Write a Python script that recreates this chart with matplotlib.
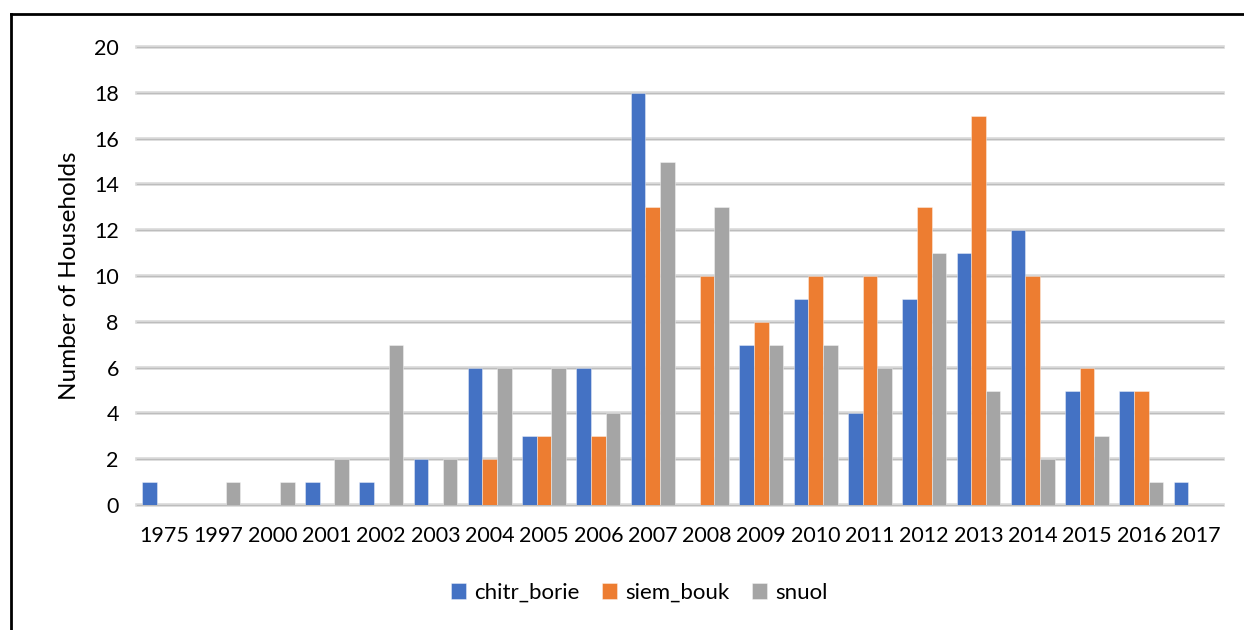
import matplotlib
matplotlib.use("Agg")
import matplotlib.pyplot as plt
import numpy as np
from matplotlib.lines import Line2D

plt.rcParams['font.family'] = ['Lato', 'DejaVu Sans']

years = ["1975", "1997", "2000", "2001", "2002", "2003", "2004", "2005", "2006", "2007",
         "2008", "2009", "2010", "2011", "2012", "2013", "2014", "2015", "2016", "2017"]
chitr_borie = [1, 0, 0, 1, 1, 2, 6, 3, 6, 18, 0, 7, 9, 4, 9, 11, 12, 5, 5, 1]
siem_bouk = [0, 0, 0, 0, 0, 0, 2, 3, 3, 13, 10, 8, 10, 10, 13, 17, 10, 6, 5, 0]
snuol = [0, 1, 1, 2, 7, 2, 6, 6, 4, 15, 13, 7, 7, 6, 11, 5, 2, 3, 1, 0]

series = [("chitr_borie", chitr_borie, "#4472C4"),
          ("siem_bouk", siem_bouk, "#ED7D31"),
          ("snuol", snuol, "#A5A5A5")]

fig = plt.figure(figsize=(12.44, 6.30), dpi=100)
ax = fig.add_axes([0.110, 0.1984, 0.873, 0.7270])

x = np.arange(len(years))
w = 0.27
for i, (name, vals, col) in enumerate(series):
    ax.bar(x + (i - 1) * w, vals, width=w, color=col, label=name,
           edgecolor=(1, 1, 1, 0.45), linewidth=0.6, zorder=3)

ax.set_xlim(-0.5, len(years) - 0.5)
ax.set_ylim(0, 20)
ax.set_yticks(range(0, 21, 2))
ax.set_xticks(x)
ax.set_xticklabels(years)
ax.tick_params(axis='both', length=0, labelsize=15.5, colors='#000000')
ax.tick_params(axis='x', pad=15)
ax.tick_params(axis='y', pad=13)
for s in ax.spines.values():
    s.set_visible(False)

# gridlines with a slight shadow
for yv in range(0, 21, 2):
    ax.axhline(yv, color='#d9d9d9', lw=2.6, zorder=1, clip_on=False)
    ax.axhline(yv, color='#bdbdbd', lw=0.8, zorder=1.5, clip_on=False)

ax.set_ylabel("Number of Households", fontsize=17.5, labelpad=10)

fig.legend(loc='center', bbox_to_anchor=(639 / 1244, 1 - 593 / 630), ncol=3,
           frameon=False, fontsize=16, handlelength=0.7, handleheight=0.7,
           handletextpad=0.35, columnspacing=1.0)

# outer frame
fig.add_artist(Line2D([11 / 1244, 1.0], [1 - 14 / 630, 1 - 14 / 630],
                      transform=fig.transFigure, color='black', lw=2))
fig.add_artist(Line2D([11 / 1244, 11 / 1244], [1 - 14 / 630, 0.0],
                      transform=fig.transFigure, color='black', lw=2))

fig.savefig("out.png", dpi=100)
